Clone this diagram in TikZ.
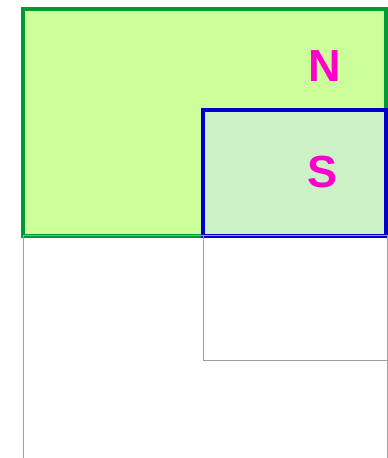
\documentclass[tikz,border=0pt]{standalone}
\usepackage{fontspec}
\setmainfont{Liberation Sans}
\definecolor{ngreen}{RGB}{0,153,51}
\definecolor{nfill}{RGB}{204,255,153}
\definecolor{sblue}{RGB}{0,0,204}
\definecolor{sfill}{RGB}{206,242,200}
\definecolor{lblmag}{RGB}{255,0,204}
\definecolor{gline}{RGB}{160,160,160}
\tikzset{
  nbox/.style={draw=ngreen,fill=nfill,line width=3.6pt},
  sbox/.style={draw=sblue,fill=sfill,line width=3.6pt},
  gbox/.style={draw=gline,line width=1pt},
  lbl/.style={text=lblmag,font=\fontsize{45}{50}\selectfont\bfseries,inner sep=0pt}
}
\begin{document}
\begin{tikzpicture}[x=1pt,y=1pt]
\useasboundingbox (0,0) rectangle (388,458);
\clip (0,0) rectangle (388,458);
\fill[white] (0,0) rectangle (388,458);
\draw[nbox] (23,449) rectangle (386,222);
\draw[sbox] (203,348) rectangle (386,222);
\draw[gbox] (23,222) rectangle (387,-20);
\draw[gbox] (203.5,222) rectangle (387,97.5);
\node[lbl] (n) at (324.5,392) {N};
\node[lbl] (s) at (323,286) {S};
\end{tikzpicture}
\end{document}
